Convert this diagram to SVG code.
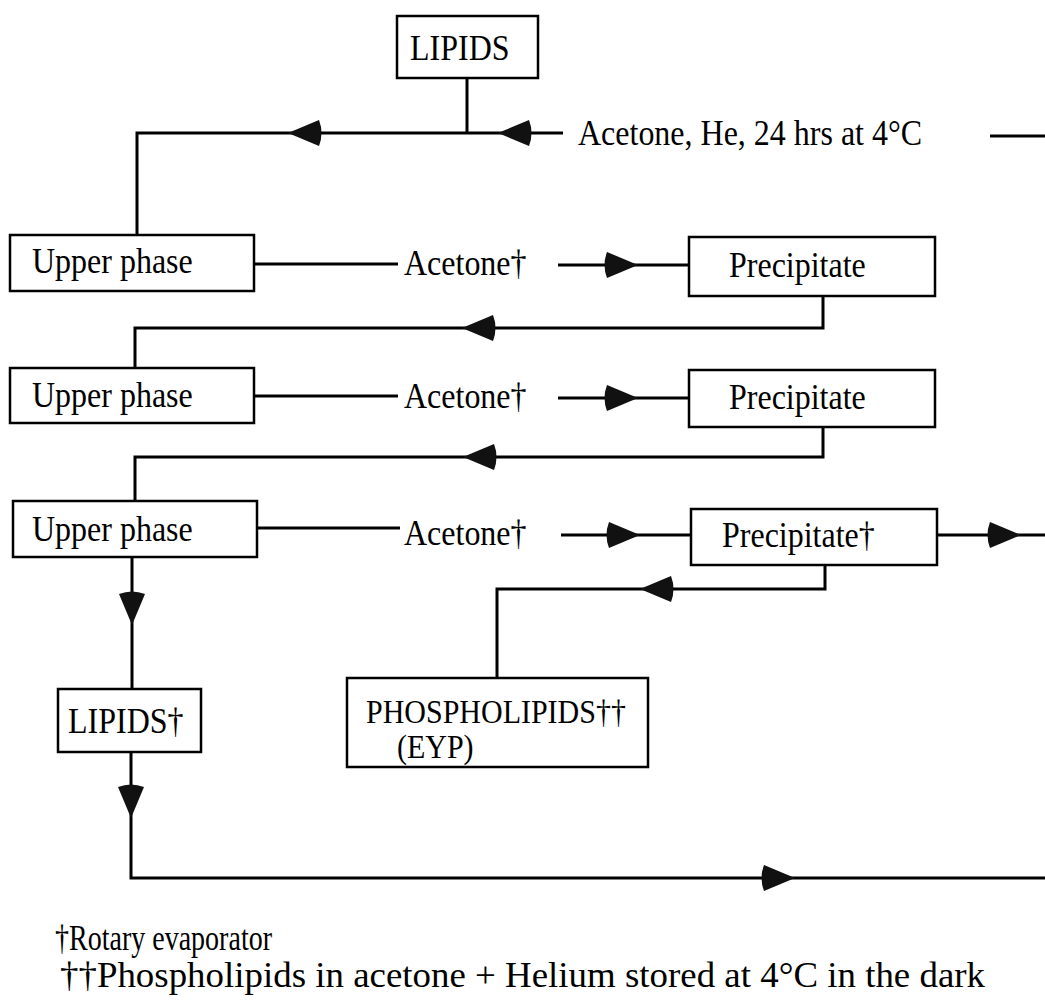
<svg xmlns="http://www.w3.org/2000/svg" xmlns:xlink="http://www.w3.org/1999/xlink" width="1045" height="1001" viewBox="0 0 1045 1001">
<style>
.box{fill:#fff;stroke:#000;stroke-width:2.5}
.ln{fill:none;stroke:#000;stroke-width:3}
.t{font-family:"Liberation Serif","Times New Roman",serif;font-size:32px;fill:#000}
.s{font-size:30px}
.ah{fill:#111}
</style>
<defs>
<path id="ah" d="M0,0 L31,-13 Q36,0 31,13 Z"/>
</defs>
<rect width="1045" height="1001" fill="#fff"/>
<g id="connectors">
<path class="ln" d="M467,78 V133"/>
<path class="ln" d="M563,133 H137 V235"/>
<path class="ln" d="M990,136 H1045"/>
<path class="ln" d="M254,264 H398"/>
<path class="ln" d="M558,265 H689"/>
<path class="ln" d="M823,296 V328 H135 V368"/>
<path class="ln" d="M254,396 H398"/>
<path class="ln" d="M558,398 H689"/>
<path class="ln" d="M823,427 V457 H135 V501"/>
<path class="ln" d="M257,528 H400"/>
<path class="ln" d="M561,535 H691"/>
<path class="ln" d="M937,535 H1045"/>
<path class="ln" d="M825,565 V589 H497 V678"/>
<path class="ln" d="M132,557 V689"/>
<path class="ln" d="M131,752 V878 H1045"/>
<g class="ah">
<use xlink:href="#ah" transform="translate(288,133)"/>
<use xlink:href="#ah" transform="translate(498,133)"/>
<use xlink:href="#ah" transform="translate(638,265) rotate(180)"/>
<use xlink:href="#ah" transform="translate(462,328)"/>
<use xlink:href="#ah" transform="translate(638,398) rotate(180)"/>
<use xlink:href="#ah" transform="translate(463,457)"/>
<use xlink:href="#ah" transform="translate(640,535) rotate(180)"/>
<use xlink:href="#ah" transform="translate(1021,535) rotate(180)"/>
<use xlink:href="#ah" transform="translate(640,589)"/>
<use xlink:href="#ah" transform="translate(132,625) rotate(-90)"/>
<use xlink:href="#ah" transform="translate(131,818) rotate(-90)"/>
<use xlink:href="#ah" transform="translate(795,878) rotate(180)"/>
</g>
</g>
<g id="lipids-top"><rect class="box" x="397" y="16" width="141" height="62"/><text class="t" transform="translate(410,60) scale(1,1.15)">LIPIDS</text></g>
<g id="label-acetone-he"><text class="t" transform="translate(578,145) scale(1,1.15)">Acetone, He, 24 hrs at 4°C</text></g>
<g id="upper1"><rect class="box" x="10" y="235" width="244" height="56"/><text class="t" transform="translate(32,273) scale(1,1.15)">Upper phase</text></g>
<g id="label-acetone1"><text class="t" transform="translate(404,275) scale(1,1.15)">Acetone†</text></g>
<g id="precip1"><rect class="box" x="689" y="237" width="246" height="59"/><text class="t" transform="translate(729,277) scale(1,1.15)">Precipitate</text></g>
<g id="upper2"><rect class="box" x="10" y="368" width="244" height="55"/><text class="t" transform="translate(32,407) scale(1,1.15)">Upper phase</text></g>
<g id="label-acetone2"><text class="t" transform="translate(404,408) scale(1,1.15)">Acetone†</text></g>
<g id="precip2"><rect class="box" x="689" y="370" width="246" height="57"/><text class="t" transform="translate(729,409) scale(1,1.15)">Precipitate</text></g>
<g id="upper3"><rect class="box" x="13" y="501" width="244" height="56"/><text class="t" transform="translate(32,541) scale(1,1.15)">Upper phase</text></g>
<g id="label-acetone3"><text class="t" transform="translate(404,545) scale(1,1.15)">Acetone†</text></g>
<g id="precip3"><rect class="box" x="691" y="509" width="246" height="56"/><text class="t" transform="translate(722,547) scale(1,1.15)">Precipitate†</text></g>
<g id="phospholipids"><rect class="box" x="347" y="678" width="301" height="89"/><text class="t s" transform="translate(366,723) scale(1,1.1)">PHOSPHOLIPIDS††</text><text class="t s" transform="translate(397,758) scale(1,1.1)">(EYP)</text></g>
<g id="lipids2"><rect class="box" x="58" y="689" width="143" height="63"/><text class="t" transform="translate(68,733) scale(1,1.15)">LIPIDS†</text></g>
<g id="footnotes">
<text class="t" transform="translate(55,950) scale(1,1.12)" textLength="217" lengthAdjust="spacingAndGlyphs">†Rotary evaporator</text>
<text class="t" transform="translate(60,987) scale(1,1.12)" textLength="925" lengthAdjust="spacingAndGlyphs">††Phospholipids in acetone + Helium stored at 4°C in the dark</text>
</g>
</svg>
